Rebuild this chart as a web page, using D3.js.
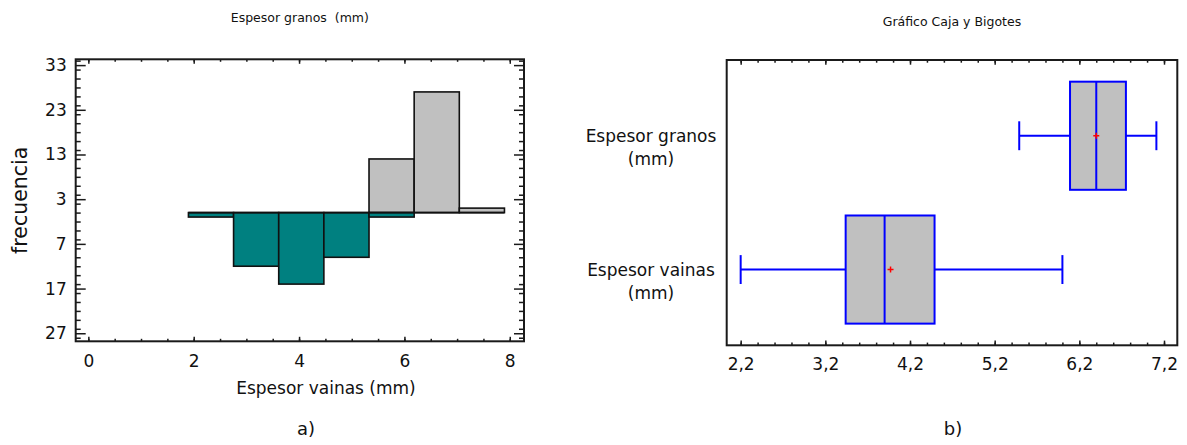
<!DOCTYPE html>
<html>
<head>
<meta charset="utf-8">
<script src="https://cdn.jsdelivr.net/npm/d3@7/dist/d3.min.js"></script>
<style>
  html, body { margin: 0; padding: 0; background: #fff; }
  svg { display: block; }
  text { font-family: "DejaVu Sans", Verdana, sans-serif; fill: #111; }
</style>
</head>
<body>
<script>
// ---------- DATA ----------
// Histogram (a)
const binEdges = [1.9, 2.757, 3.614, 4.471, 5.328, 6.185, 7.042, 7.899];
const granosFreq = [0, 0, 0, 0, 12, 27, 1];   // upward (grey)
const vainasFreq = [1, 12, 16, 10, 1, 0, 0];  // downward (teal)
const histXTicks = [0, 2, 4, 6, 8];
const histYTicks = [33, 23, 13, 3, -7, -17, -27];
const histTitle = "Espesor granos  (mm)";
const histXLabel = "Espesor vainas (mm)";
const histYLabel = "frecuencia";

// Box plot (b)
const boxCategories = ["Espesor granos (mm)", "Espesor vainas (mm)"];
const boxMin = [5.49, 2.20];
const boxQ1 = [6.09, 3.44];
const boxMedian = [6.40, 3.90];
const boxQ3 = [6.75, 4.49];
const boxMax = [7.11, 6.00];
const boxMean = [6.40, 3.97];
const boxXTicks = [2.2, 3.2, 4.2, 5.2, 6.2, 7.2];
const boxTitle = "Gráfico Caja y Bigotes";

const W = 1187, H = 445;
const svg = d3.select("body").append("svg").attr("width", W).attr("height", H);

const frameColor = "#1a1a1a";

// ---------- HISTOGRAM ----------
const L = { left: 75.7, right: 524, top: 59.3, bottom: 341.3 };
const hx = d3.scaleLinear().domain([-0.24, 8.27]).range([L.left, L.right]);
const hy = d3.scaleLinear().domain([-28.8, 34.3]).range([L.bottom, L.top]);

const gH = svg.append("g");

// bars
const bins = binEdges.slice(0, -1).map((e, i) => ({ x0: e, x1: binEdges[i + 1], g: granosFreq[i], v: vainasFreq[i] }));
gH.selectAll("rect.up").data(bins.filter(d => d.g > 0)).join("rect")
  .attr("x", d => hx(d.x0)).attr("width", d => hx(d.x1) - hx(d.x0))
  .attr("y", d => hy(d.g)).attr("height", d => hy(0) - hy(d.g))
  .attr("fill", "#c0c0c0").attr("stroke", "#111").attr("stroke-width", 1.6);
gH.selectAll("rect.down").data(bins.filter(d => d.v > 0)).join("rect")
  .attr("x", d => hx(d.x0)).attr("width", d => hx(d.x1) - hx(d.x0))
  .attr("y", hy(0)).attr("height", d => hy(-d.v) - hy(0))
  .attr("fill", "#008080").attr("stroke", "#111").attr("stroke-width", 1.6);
gH.append("line")
  .attr("x1", hx(binEdges[0])).attr("x2", hx(binEdges[binEdges.length - 1]))
  .attr("y1", hy(0)).attr("y2", hy(0))
  .attr("stroke", "#111").attr("stroke-width", 1.6);

// axes with inward ticks
const hMinorX = d3.range(0, 8.01, 0.5);
const hMinorY = d3.range(-28, 34.1, 2);
function addAxis(g, axis) { g.call(axis); g.select(".domain").remove(); g.selectAll(".tick line").attr("stroke", frameColor).attr("stroke-width", 1.5); g.selectAll("text").style("font-size", "17px").attr("fill", "#111"); return g; }

addAxis(gH.append("g").attr("transform", `translate(0,${L.bottom})`),
  d3.axisBottom(hx).tickValues(hMinorX).tickFormat("").tickSizeInner(-2.5).tickSizeOuter(0));
addAxis(gH.append("g").attr("transform", `translate(0,${L.bottom})`),
  d3.axisBottom(hx).tickValues(histXTicks).tickFormat(d3.format("d")).tickSizeInner(-4.5).tickSizeOuter(0).tickPadding(14));
addAxis(gH.append("g").attr("transform", `translate(0,${L.top})`),
  d3.axisTop(hx).tickValues(hMinorX).tickFormat("").tickSizeInner(-2.5).tickSizeOuter(0));
addAxis(gH.append("g").attr("transform", `translate(0,${L.top})`),
  d3.axisTop(hx).tickValues(histXTicks).tickFormat("").tickSizeInner(-4.5).tickSizeOuter(0));
addAxis(gH.append("g").attr("transform", `translate(${L.left},0)`),
  d3.axisLeft(hy).tickValues(hMinorY).tickFormat("").tickSizeInner(-5).tickSizeOuter(0));
addAxis(gH.append("g").attr("transform", `translate(${L.left},0)`),
  d3.axisLeft(hy).tickValues(histYTicks).tickFormat(d => Math.abs(d)).tickSizeInner(-10).tickSizeOuter(0).tickPadding(9));
addAxis(gH.append("g").attr("transform", `translate(${L.right},0)`),
  d3.axisRight(hy).tickValues(hMinorY).tickFormat("").tickSizeInner(-5).tickSizeOuter(0));
addAxis(gH.append("g").attr("transform", `translate(${L.right},0)`),
  d3.axisRight(hy).tickValues(histYTicks).tickFormat("").tickSizeInner(-10).tickSizeOuter(0));

gH.append("rect").attr("x", L.left).attr("y", L.top)
  .attr("width", L.right - L.left).attr("height", L.bottom - L.top)
  .attr("fill", "none").attr("stroke", frameColor).attr("stroke-width", 2);

gH.append("text").attr("x", (L.left + L.right) / 2).attr("y", 22)
  .attr("text-anchor", "middle").style("font-size", "12.5px").style("white-space", "pre")
  .attr("xml:space", "preserve").text(histTitle);
gH.append("text").attr("x", 326).attr("y", 394)
  .attr("text-anchor", "middle").style("font-size", "17px").text(histXLabel);
gH.append("text").attr("transform", `translate(27,${(L.top + L.bottom) / 2}) rotate(-90)`)
  .attr("text-anchor", "middle").style("font-size", "20.5px").text(histYLabel);
gH.append("text").attr("x", 306).attr("y", 435)
  .attr("text-anchor", "middle").style("font-size", "18px").text("a)");

// ---------- BOX PLOT ----------
const R = { left: 726.7, right: 1177.3, top: 60, bottom: 345.3 };
const bx = d3.scaleLinear().domain([2.035, 7.357]).range([R.left, R.right]);
const by = d3.scalePoint().domain(boxCategories).range([R.top, R.bottom]).padding(0.566);
const halfBox = by.step() * 0.404;
const halfCap = by.step() * 0.108;

const gB = svg.append("g");
const bMinor = d3.range(2.2, 7.31, 0.2);
addAxis(gB.append("g").attr("transform", `translate(0,${R.bottom})`),
  d3.axisBottom(bx).tickValues(bMinor).tickFormat("").tickSizeInner(-2.7).tickSizeOuter(0));
addAxis(gB.append("g").attr("transform", `translate(0,${R.bottom})`),
  d3.axisBottom(bx).tickValues(boxXTicks).tickFormat(d => d3.format(".1f")(d).replace(".", ",")).tickSizeInner(-4.7).tickSizeOuter(0).tickPadding(13));
addAxis(gB.append("g").attr("transform", `translate(0,${R.top})`),
  d3.axisTop(bx).tickValues(bMinor).tickFormat("").tickSizeInner(-2.7).tickSizeOuter(0));
addAxis(gB.append("g").attr("transform", `translate(0,${R.top})`),
  d3.axisTop(bx).tickValues(boxXTicks).tickFormat("").tickSizeInner(-4.7).tickSizeOuter(0));

gB.append("rect").attr("x", R.left).attr("y", R.top)
  .attr("width", R.right - R.left).attr("height", R.bottom - R.top)
  .attr("fill", "none").attr("stroke", frameColor).attr("stroke-width", 2);

const boxes = boxCategories.map((c, i) => ({ c, min: boxMin[i], q1: boxQ1[i], med: boxMedian[i], q3: boxQ3[i], max: boxMax[i], mean: boxMean[i] }));
const blue = "#0000ff";
const bg = gB.selectAll("g.box").data(boxes).join("g");
bg.append("line").attr("x1", d => bx(d.min)).attr("x2", d => bx(d.q1))
  .attr("y1", d => by(d.c)).attr("y2", d => by(d.c)).attr("stroke", blue).attr("stroke-width", 2);
bg.append("line").attr("x1", d => bx(d.q3)).attr("x2", d => bx(d.max))
  .attr("y1", d => by(d.c)).attr("y2", d => by(d.c)).attr("stroke", blue).attr("stroke-width", 2);
bg.append("line").attr("x1", d => bx(d.min)).attr("x2", d => bx(d.min))
  .attr("y1", d => by(d.c) - halfCap).attr("y2", d => by(d.c) + halfCap).attr("stroke", blue).attr("stroke-width", 2);
bg.append("line").attr("x1", d => bx(d.max)).attr("x2", d => bx(d.max))
  .attr("y1", d => by(d.c) - halfCap).attr("y2", d => by(d.c) + halfCap).attr("stroke", blue).attr("stroke-width", 2);
bg.append("rect").attr("x", d => bx(d.q1)).attr("width", d => bx(d.q3) - bx(d.q1))
  .attr("y", d => by(d.c) - halfBox).attr("height", halfBox * 2)
  .attr("fill", "#c0c0c0").attr("stroke", blue).attr("stroke-width", 2);
bg.append("line").attr("x1", d => bx(d.med)).attr("x2", d => bx(d.med))
  .attr("y1", d => by(d.c) - halfBox).attr("y2", d => by(d.c) + halfBox).attr("stroke", blue).attr("stroke-width", 2);
bg.append("path")
  .attr("d", d => { const x = bx(d.mean), y = by(d.c); return `M${x - 3},${y}H${x + 3}M${x},${y - 3}V${y + 3}`; })
  .attr("stroke", "#ff0000").attr("stroke-width", 1.5);

// category labels (two lines)
const lab = gB.selectAll("text.cat").data(boxCategories).join("text")
  .attr("text-anchor", "middle").style("font-size", "17px");
lab.each(function (c) {
  const parts = c.split(" (");
  const t = d3.select(this);
  t.append("tspan").attr("x", 651).attr("y", by(c) + 6).text(parts[0]);
  t.append("tspan").attr("x", 651).attr("y", by(c) + 29).text("(" + parts[1]);
});

gB.append("text").attr("x", (R.left + R.right) / 2).attr("y", 26)
  .attr("text-anchor", "middle").style("font-size", "12.5px").text(boxTitle);
gB.append("text").attr("x", 953).attr("y", 435)
  .attr("text-anchor", "middle").style("font-size", "18px").text("b)");
</script>
</body>
</html>
